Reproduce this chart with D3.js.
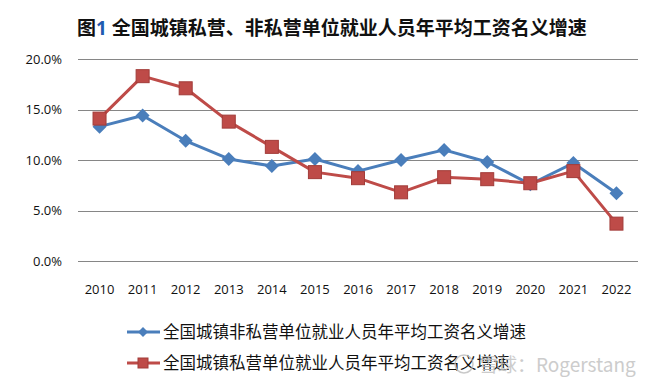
<!DOCTYPE html>
<html lang="zh">
<head>
<meta charset="UTF-8">
<title>全国城镇私营、非私营单位就业人员年平均工资名义增速</title>
<script src="https://d3js.org/d3.v7.min.js"></script>
<style>
  body { margin: 0; background: #fff; }
  svg { display: block; }
</style>
</head>
<body>
<div id="chart"></div>
<script>
// data (percent)
const years = ["2010", "2011", "2012", "2013", "2014", "2015", "2016", "2017", "2018", "2019", "2020", "2021", "2022"];
const nonPrivate = [13.3, 14.4, 11.9, 10.1, 9.4, 10.1, 8.9, 10.0, 11.0, 9.8, 7.6, 9.7, 6.7];
const privateUnits = [14.1, 18.3, 17.1, 13.8, 11.3, 8.8, 8.2, 6.8, 8.3, 8.1, 7.7, 8.9, 3.7];
const yTicks = [0, 5, 10, 15, 20];
const seriesNames = ["全国城镇非私营单位就业人员年平均工资名义增速", "全国城镇私营单位就业人员年平均工资名义增速"];

const W = 660, H = 388;
const cjk = "'Noto Sans CJK SC', 'Noto Sans', sans-serif";
const latin = "'Open Sans', 'Liberation Sans', sans-serif";

const svg = d3.select("#chart").append("svg")
    .attr("width", W)
    .attr("height", H);

const x = d3.scaleBand().domain(years).range([78, 638]);
const y = d3.scaleLinear().domain([0, 20]).range([261, 59]);
const cx = d => x(d) + x.bandwidth() / 2;

// title
const title = svg.append("text")
    .attr("x", 77)
    .attr("y", 35)
    .attr("font-family", cjk)
    .attr("font-size", 19)
    .attr("font-weight", "bold")
    .attr("fill", "#111");
title.append("tspan").text("图");
title.append("tspan").attr("fill", "#1f5bb0").attr("font-family", latin).text("1 ");
title.append("tspan").text("全国城镇私营、非私营单位就业人员年平均工资名义增速");

// gridlines + y labels
svg.append("g")
    .selectAll("line")
    .data(yTicks)
    .join("line")
    .attr("x1", 78)
    .attr("x2", 638)
    .attr("y1", d => Math.round(y(d)) + 0.5)
    .attr("y2", d => Math.round(y(d)) + 0.5)
    .attr("stroke", "#868686")
    .attr("stroke-width", 1);

svg.append("g")
    .selectAll("text")
    .data(yTicks)
    .join("text")
    .attr("x", 62)
    .attr("y", d => y(d) + 4.5)
    .attr("text-anchor", "end")
    .attr("font-family", latin)
    .attr("font-size", 13)
    .attr("fill", "#111")
    .text(d => d.toFixed(1) + "%");

// x labels
svg.append("g")
    .selectAll("text")
    .data(years)
    .join("text")
    .attr("x", d => cx(d))
    .attr("y", 294)
    .attr("text-anchor", "middle")
    .attr("font-family", latin)
    .attr("font-size", 13)
    .attr("fill", "#111")
    .text(d => d);

const blue = "#4a7ebb", red = "#be4b48", redEdge = "#a23c39";

const line = d3.line()
    .x((d, i) => cx(years[i]))
    .y(d => y(d));

function diamond(g, px, py, r) {
    g.append("path")
        .attr("d", `M${px},${py - r}L${px + r},${py}L${px},${py + r}L${px - r},${py}Z`)
        .attr("fill", blue);
}
function square(g, px, py, s) {
    g.append("rect")
        .attr("x", px - s / 2)
        .attr("y", py - s / 2)
        .attr("width", s)
        .attr("height", s)
        .attr("fill", red)
        .attr("stroke", redEdge)
        .attr("stroke-width", 1);
}

// blue series
svg.append("path")
    .datum(nonPrivate)
    .attr("d", line)
    .attr("fill", "none")
    .attr("stroke", blue)
    .attr("stroke-width", 3)
    .attr("stroke-linejoin", "round");

// red series
svg.append("path")
    .datum(privateUnits)
    .attr("d", line)
    .attr("fill", "none")
    .attr("stroke", red)
    .attr("stroke-width", 3)
    .attr("stroke-linejoin", "round");

const marks = svg.append("g");
nonPrivate.forEach((v, i) => diamond(marks, cx(years[i]), y(v), 7));
privateUnits.forEach((v, i) => square(marks, cx(years[i]), y(v), 13));

// legend
const legend = svg.append("g");
const legY = [332, 363];
[0, 1].forEach(i => {
    legend.append("line")
        .attr("x1", 127).attr("x2", 160)
        .attr("y1", legY[i]).attr("y2", legY[i])
        .attr("stroke", i === 0 ? blue : red)
        .attr("stroke-width", 3);
    if (i === 0) diamond(legend, 143, legY[i], 5);
    else square(legend, 143, legY[i], 10);
    legend.append("text")
        .attr("x", 163)
        .attr("y", legY[i] + 6)
        .attr("font-family", cjk)
        .attr("font-size", 16.5)
        .attr("fill", "#111")
        .text(seriesNames[i]);
});

// watermark
svg.append("circle")
    .attr("cx", 464).attr("cy", 364).attr("r", 9)
    .attr("fill", "none")
    .attr("stroke", "#bbb")
    .attr("stroke-width", 1.5)
    .attr("opacity", 0.8);
svg.append("text")
    .attr("x", 479)
    .attr("y", 372)
    .attr("font-family", cjk)
    .attr("font-size", 19)
    .attr("fill", "#c4c4c4")
    .attr("opacity", 0.85)
    .text("雪球：Rogerstang");
</script>
</body>
</html>
